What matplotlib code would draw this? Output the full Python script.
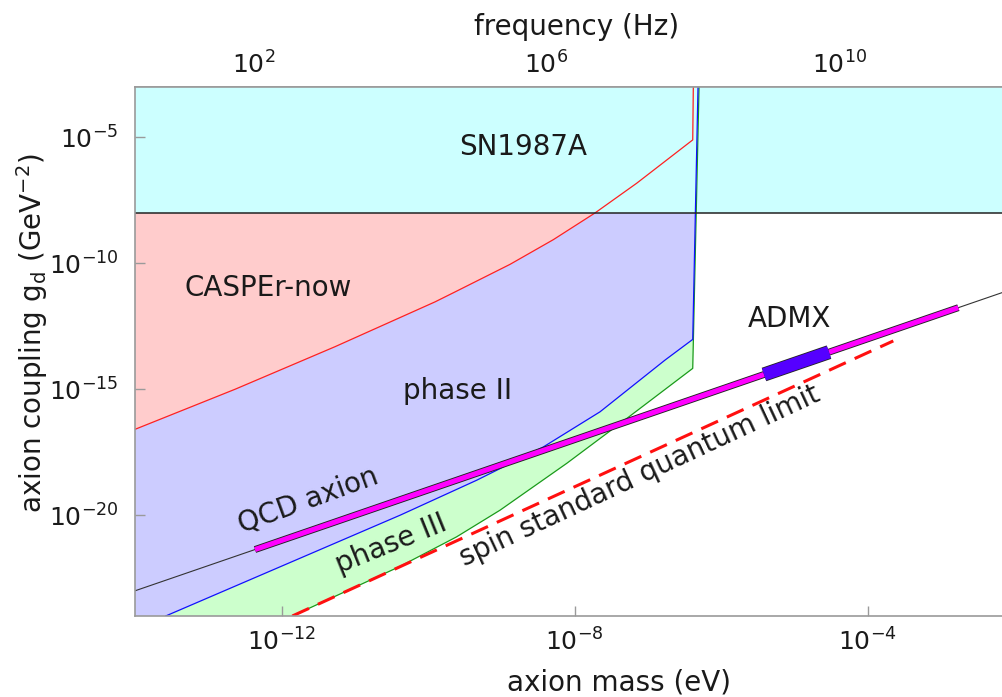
import numpy as np
import matplotlib
matplotlib.use("Agg")
import matplotlib.pyplot as plt
import matplotlib.patheffects as pe
from matplotlib.ticker import FixedLocator, FuncFormatter, NullLocator

# all values are log10: mass in eV, coupling g_d in GeV^-2
sn_logg = -8.0                      # SN1987A bound, everything above is excluded

caspr_logm = [-14.0, -12.635, -11.27, -9.904, -9.655, -8.88, -8.289, -7.72, -7.151, -6.386, -6.378]
caspr_logg = [-16.59, -15.0, -13.31, -11.53, -11.17, -10.04, -9.06, -8.0, -6.82, -5.10, -3.0]

phase2_logm = [-13.581, -10.382, -9.335, -8.426, -7.652, -6.764, -6.386, -6.314]
phase2_logg = [-24.0, -20.0, -18.61, -17.29, -15.895, -13.84, -13.02, -3.0]

phase3_logm = [-11.852, -10.382, -9.611, -9.017, -8.106, -7.287, -6.386, -6.30]
phase3_logg = [-24.0, -22.03, -20.86, -19.80, -17.94, -16.16, -14.17, -3.0]

sql_logm = [-11.852, -3.648]
sql_logg = [-24.0, -13.08]

qcd_logm = [-14.0, -2.164]
qcd_logg = [-23.0, -11.164]
band_logm = [-12.362, -2.76]
band_logg = [-21.362, -11.76]
admx_logm = [-5.413, -4.526]
admx_logg = [-14.413, -13.526]

xlim_log = (-14.0, -2.164)
ylim_log = (-24.0, -3.0)
mass_ticks = [1e-12, 1e-8, 1e-4]
freq_ticks = [1e2, 1e6, 1e10]
g_ticks = [1e-20, 1e-15, 1e-10, 1e-5]

H_EV_S = 4.1357e-15  # eV*s, mass -> frequency

TXT = "#1a1a1a"
GRAY = "#9a9a9a"

plt.rcParams["font.family"] = ["DejaVu Sans"]
plt.rcParams["mathtext.fontset"] = "dejavusans"
plt.rcParams["mathtext.default"] = "regular"


def lin(a):
    return 10.0 ** np.asarray(a, dtype=float)


def pow10(v, _pos):
    return f"$10^{{{int(round(np.log10(v)))}}}$"


fig = plt.figure(figsize=(10.02, 6.97), dpi=100)
ax = fig.add_axes([135 / 1002, 81 / 697, 867 / 1002, 529 / 697])
ax.set_xscale("log")
ax.set_yscale("log")
ax.set_xlim(lin(xlim_log))
ax.set_ylim(lin(ylim_log))

top = ylim_log[1]
# CASPEr-now (pink): above red curve
pm = caspr_logm + [xlim_log[0]]
pg = caspr_logg + [top]
ax.fill(lin(pm), lin(pg), color="#ffcccc", lw=0, zorder=1)
# phase II (lavender): between blue and red curves
lm = [xlim_log[0]] + phase2_logm + caspr_logm[::-1]
lg = [ylim_log[0]] + phase2_logg + caspr_logg[::-1]
ax.fill(lin(lm), lin(lg), color="#ccccff", lw=0, zorder=1.1)
# phase III (green): between green and blue curves
gm = phase3_logm + phase2_logm[::-1]
gg = phase3_logg + phase2_logg[::-1]
ax.fill(lin(gm), lin(gg), color="#ccffcc", lw=0, zorder=1.2)
# SN1987A (cyan)
ax.axhspan(10 ** sn_logg, 10 ** top, color="#ccffff", lw=0, zorder=1.5)
ax.axhline(10 ** sn_logg, color="#222222", lw=1.1, zorder=2.5)

ax.plot(lin(caspr_logm), lin(caspr_logg), color="#ff2020", lw=0.9, zorder=2)
ax.plot(lin(phase3_logm), lin(phase3_logg), color="#1a9a1a", lw=0.9, zorder=2)
ax.plot(lin(phase2_logm), lin(phase2_logg), color="#1010ff", lw=0.9, zorder=2.1)

# spin standard quantum limit
ax.plot(lin(sql_logm), lin(sql_logg), color="#ff1010", lw=2.2, dashes=(6.0, 3.2), zorder=4)

# QCD axion line, band and ADMX
ax.plot(lin(qcd_logm), lin(qcd_logg), color="#333333", lw=0.8, zorder=3)
ax.plot(lin(band_logm), lin(band_logg), color="#ff00ff", lw=3.7, solid_capstyle="butt", zorder=4,
        path_effects=[pe.Stroke(linewidth=5.0, foreground="#222222"), pe.Normal()])
ax.plot(lin(admx_logm), lin(admx_logg), color="#5500ff", lw=9.0, solid_capstyle="butt", zorder=5,
        path_effects=[pe.Stroke(linewidth=10.2, foreground="#222222"), pe.Normal()])

fs = 20
ax.text(10 ** -8.703, 10 ** -5.70, "SN1987A", fontsize=fs, color=TXT, ha="center", va="baseline", zorder=6)
ax.text(10 ** -12.18, 10 ** -11.29, "CASPEr-now", fontsize=fs, color=TXT, ha="center", va="baseline", zorder=6)
ax.text(10 ** -9.597, 10 ** -15.40, "phase II", fontsize=fs, color=TXT, ha="center", va="baseline", zorder=6)
ax.text(10 ** -5.072, 10 ** -12.52, "ADMX", fontsize=fs, color=TXT, ha="center", va="baseline", zorder=6)
ax.text(10 ** -11.597, 10 ** -19.68, "QCD axion", fontsize=fs, color=TXT, ha="center", va="baseline",
        rotation=20, rotation_mode="anchor", zorder=6)
ax.text(10 ** -10.457, 10 ** -21.43, "phase III", fontsize=fs, color=TXT, ha="center", va="baseline",
        rotation=22, rotation_mode="anchor", zorder=6)
ax.text(10 ** -7.058, 10 ** -18.73, "spin standard quantum limit", fontsize=fs, color=TXT, ha="center",
        va="baseline", rotation=25, rotation_mode="anchor", zorder=6)

# axes cosmetics
ax.xaxis.set_major_locator(FixedLocator(mass_ticks))
ax.yaxis.set_major_locator(FixedLocator(g_ticks))
ax.xaxis.set_minor_locator(NullLocator())
ax.yaxis.set_minor_locator(NullLocator())
ax.xaxis.set_major_formatter(FuncFormatter(pow10))
ax.yaxis.set_major_formatter(FuncFormatter(pow10))
ax.tick_params(axis="x", direction="in", length=7, width=1, color=GRAY, labelsize=18,
               labelcolor=TXT, pad=9)
ax.tick_params(axis="y", direction="in", length=7, width=1, color=GRAY, labelsize=18,
               labelcolor=TXT, pad=12)
for side in ("left", "bottom", "top"):
    ax.spines[side].set_color(GRAY)
    ax.spines[side].set_linewidth(1.2)
    ax.spines[side].set_zorder(7)
ax.spines["right"].set_visible(False)

secax = ax.secondary_xaxis("top", functions=(lambda m: m / H_EV_S, lambda f: f * H_EV_S))
secax.xaxis.set_major_locator(FixedLocator(freq_ticks))
secax.xaxis.set_minor_locator(NullLocator())
secax.xaxis.set_major_formatter(FuncFormatter(pow10))
secax.tick_params(axis="x", direction="in", length=7, width=1, color=GRAY, labelsize=18,
                  labelcolor=TXT, pad=6)
secax.spines["top"].set_color(GRAY)
secax.spines["top"].set_linewidth(1.2)

ax.set_xlabel("axion mass (eV)", fontsize=fs, color=TXT, labelpad=9)
ax.xaxis.label.set_x(0.558)
secax.set_xlabel("frequency (Hz)", fontsize=fs, color=TXT, labelpad=12)
secax.xaxis.label.set_x(0.509)
ax.set_ylabel("axion coupling g$_d$ (GeV$^{-2}$)", fontsize=fs, color=TXT, labelpad=-1)
ax.yaxis.label.set_y(0.534)

fig.savefig("out.png", dpi=100)
